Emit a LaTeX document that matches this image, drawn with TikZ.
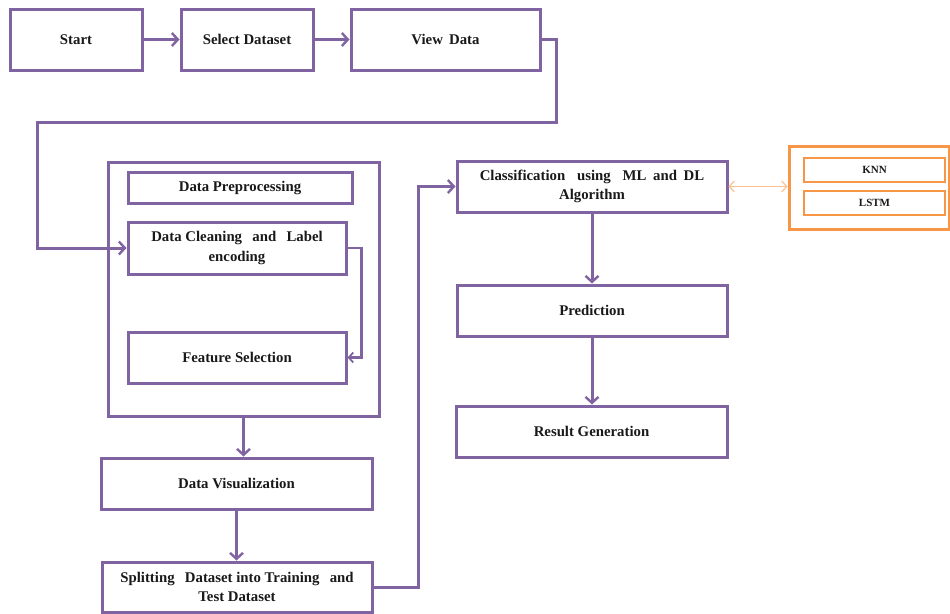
\documentclass[tikz,border=0pt]{standalone}
\usepackage{fontspec}
\setmainfont{Liberation Serif}
\usetikzlibrary{arrows.meta}
\definecolor{pur}{HTML}{8064A2}
\definecolor{org}{HTML}{F79646}
\definecolor{lorg}{HTML}{FAC090}
\begin{document}
\begin{tikzpicture}[x=1pt,y=-1pt,
  box/.style={draw=pur,line width=3pt,rectangle,inner sep=2pt,align=center,
    font=\fontsize{14.8}{19.5}\selectfont\bfseries,text=black!90},
  obox/.style={draw=org,line width=3pt,rectangle,inner sep=0pt},
  sbox/.style={draw=org,line width=2.8pt,rectangle,inner sep=0pt,
    font=\fontsize{11}{12}\selectfont\bfseries,text=black!90},
  arr/.style={draw=pur,line width=3pt,-{Straight Barb[length=6pt,width=13pt,line width=2.4pt]}}]
\useasboundingbox (0,0) rectangle (950,613);
\node[box,minimum width=132,minimum height=61] (start) at (76,39.5) {Start};
\node[box,minimum width=132,minimum height=61] (sel) at (247,39.5) {Select Dataset};
\node[box,minimum width=189,minimum height=61] (view) at (445.5,39.5) {View\, Data};
\node[box,minimum width=271,minimum height=254] (outer) at (243.5,289) {};
\node[box,minimum width=224,minimum height=31] (pre) at (240,187.5) {Data Preprocessing};
\node[box,minimum width=218,minimum height=52] (clean) at (237,248) {Data Cleaning\;\, and\;\, Label\\encoding};
\node[box,minimum width=218,minimum height=51] (feat) at (237,357.5) {Feature Selection};
\node[box,minimum width=271,minimum height=51] (vis) at (236.5,483.5) {Data Visualization};
\node[box,minimum width=270,minimum height=50] (split) at (237,587) {Splitting\;\, Dataset into Training\;\, and\\Test Dataset};
\node[box,minimum width=270,minimum height=51] (cls) at (592,186.5) {Classification\hspace{0.55em} using\hspace{0.55em} ML\hspace{0.2em} and\hspace{0.2em} DL\\Algorithm};
\node[box,minimum width=270,minimum height=51] (pred) at (592,310.5) {Prediction};
\node[box,minimum width=271,minimum height=51] (res) at (591.5,431.5) {Result Generation};
\node[obox,minimum width=160,minimum height=83] (alg) at (869,187.5) {};
\node[sbox,minimum width=141,minimum height=24] (knn) at (874.5,170) {KNN};
\node[sbox,minimum width=141,minimum height=24] (lstm) at (874.5,203) {LSTM};
\coordinate (c1) at (556,122);
\coordinate (c2) at (37,122);
\draw[arr] (start.east) -- (sel.west);
\draw[arr] (sel.east) -- (view.west);
\draw[arr] (view.east) -| (c1) -- (c2) |- (clean.west);
\draw[draw=pur,line width=2.2pt,-{Straight Barb[length=4.5pt,width=10pt,line width=1.8pt]}] (clean.east) -- ++(14,0) |- (feat.east);
\draw[arr] (outer.south) -- (outer.south |- vis.north);
\draw[arr] (vis.south) -- (vis.south |- split.north);
\draw[arr] (split.east) -- ++(45,0) |- (cls.west);
\draw[arr] (cls.south) -- (pred.north);
\draw[arr] (pred.south) -- (pred.south |- res.north);
\draw[draw=lorg,line width=1.2pt,{Straight Barb[length=5pt,width=11pt]}-{Straight Barb[length=5pt,width=11pt]}] (cls.east) -- (cls.east -| alg.west);
\end{tikzpicture}
\end{document}
